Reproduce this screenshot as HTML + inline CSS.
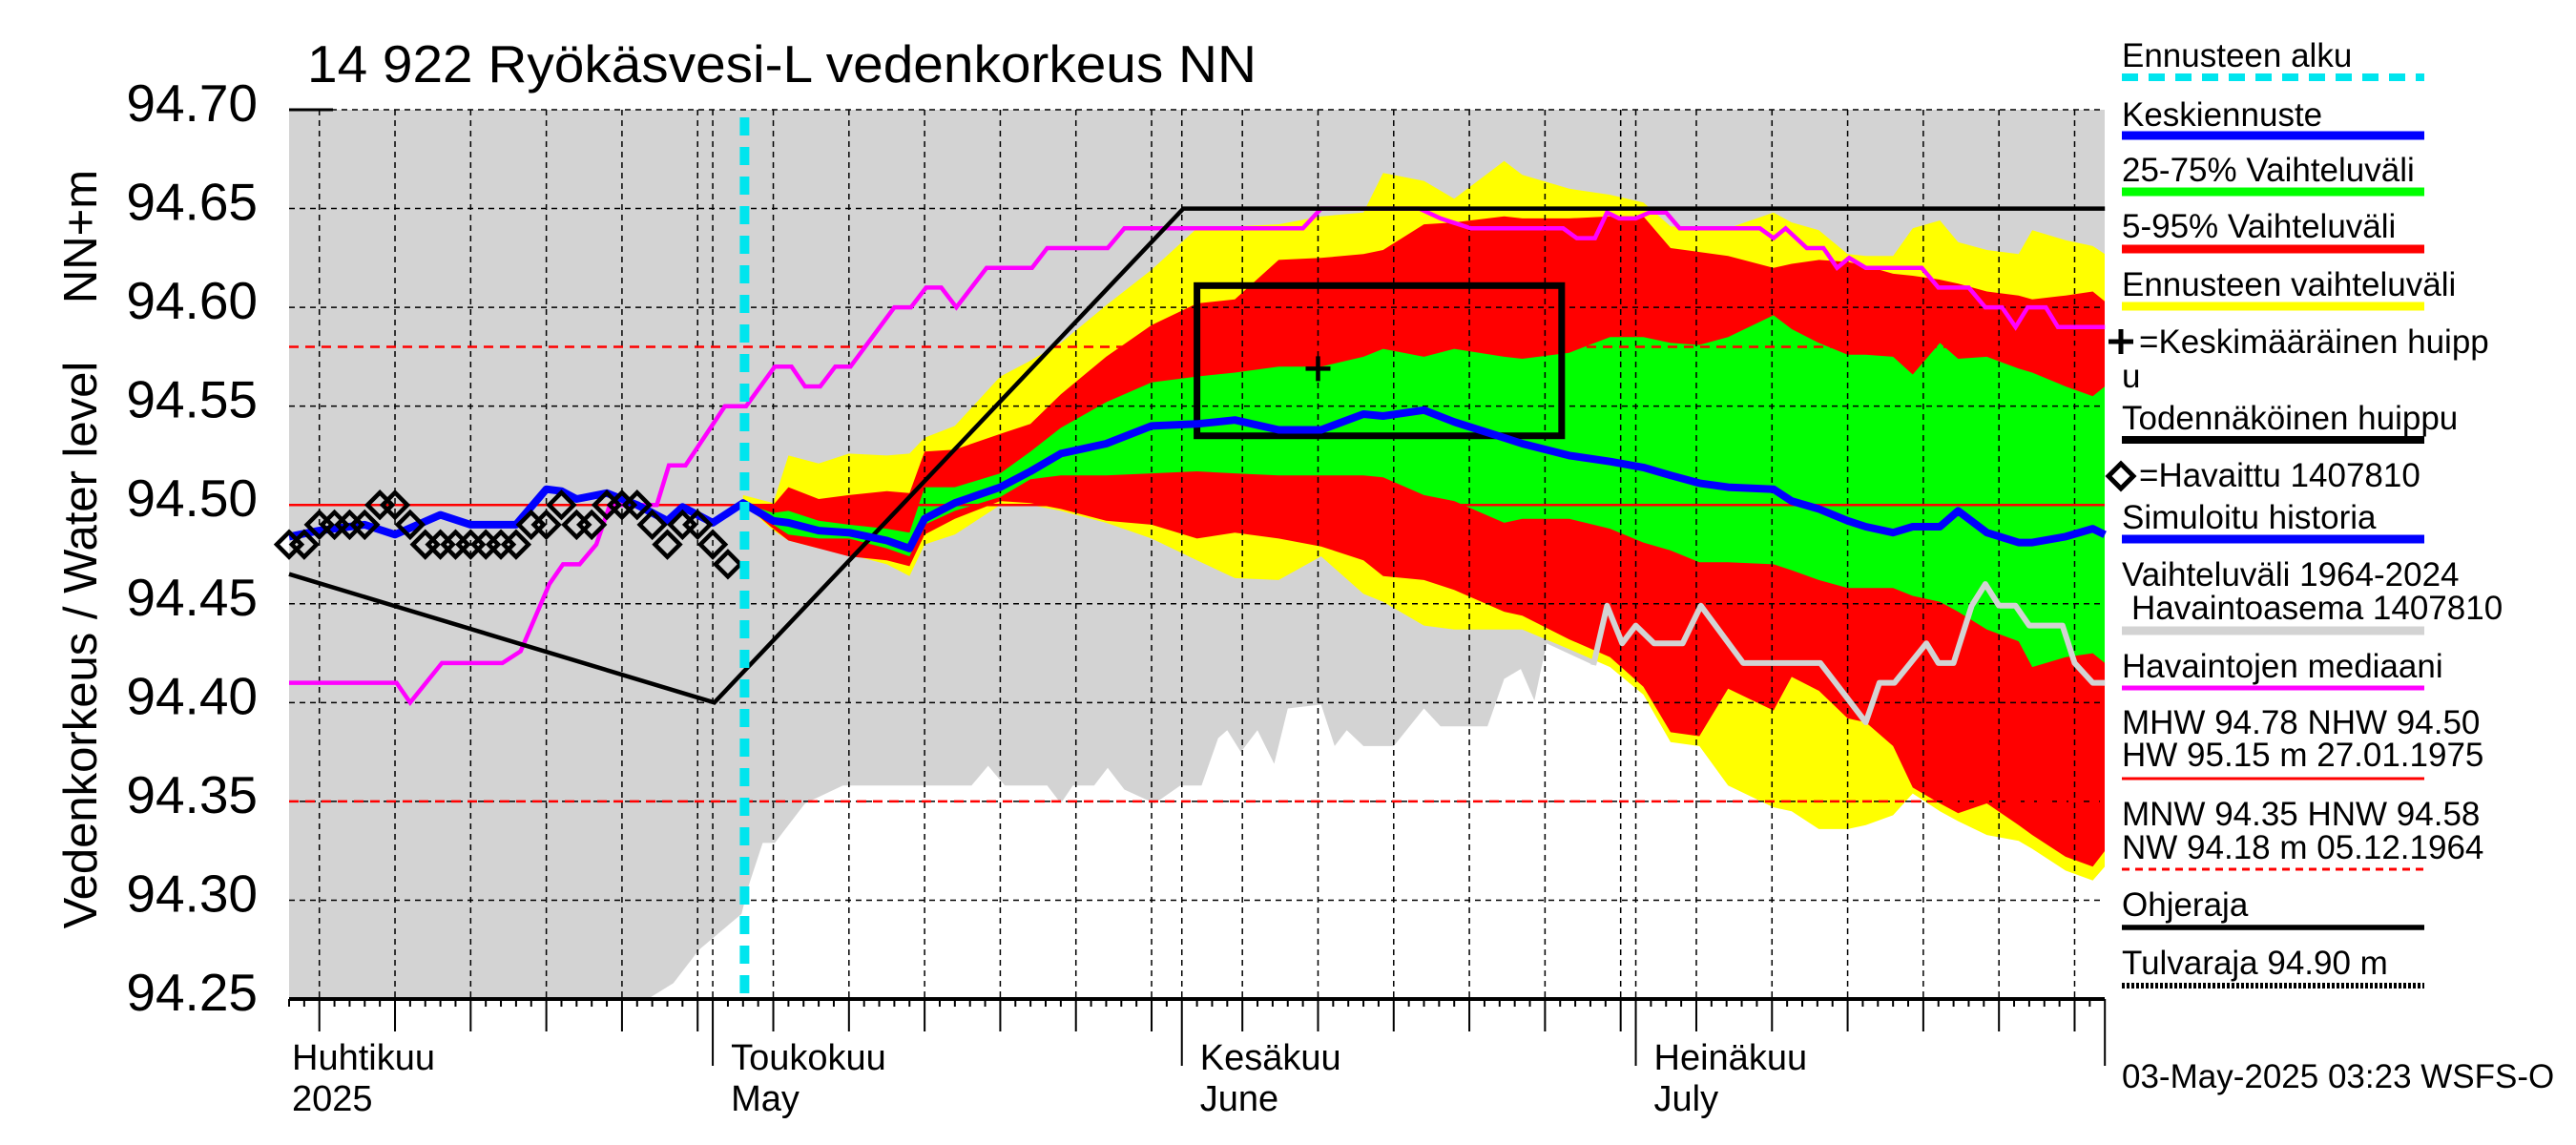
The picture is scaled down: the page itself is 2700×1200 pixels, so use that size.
<!DOCTYPE html>
<html><head><meta charset="utf-8"><style>
html,body{margin:0;padding:0;background:#fff;}
svg{display:block;font-family:"Liberation Sans",sans-serif;}
</style></head><body>
<svg id="chart" width="2700" height="1200" viewBox="0 0 2700 1200" xmlns="http://www.w3.org/2000/svg">
<defs><clipPath id="pc"><rect x="303" y="115" width="1903" height="932"/></clipPath></defs>
<rect x="0" y="0" width="2700" height="1200" fill="#fff"/>
<text x="322" y="86" font-size="55" textLength="995" lengthAdjust="spacingAndGlyphs">14 922 Ryökäsvesi-L vedenkorkeus NN</text>
<text transform="translate(101,676) rotate(-90)" text-anchor="middle" font-size="49">Vedenkorkeus / Water level</text>
<text transform="translate(101,248) rotate(-90)" text-anchor="middle" font-size="49">NN+m</text>
<g id="plot" clip-path="url(#pc)"></g>
<g id="over"></g>
<g id="legend"></g>
</svg>
<script>
// ---- data ----
const obsDays=[0,1,2,3,4,5,6,7,8,9,10,11,12,13,14,15,16,17,18,19,20,21,22,23,24,25,26,27,28,29];
const obsVals=[94.48,94.48,94.49,94.49,94.49,94.49,94.50,94.50,94.49,94.48,94.48,94.48,94.48,94.48,94.48,94.48,94.49,94.49,94.50,94.49,94.49,94.50,94.50,94.50,94.49,94.48,94.49,94.49,94.48,94.47];
const simDays=[0,2,5,7,10,12,15,17,18,19,21,23,25,26,28];
const simVals=[94.484,94.487,94.490,94.485,94.495,94.490,94.490,94.508,94.507,94.503,94.506,94.500,94.492,94.499,94.491];
const fDays=[30,32,33,35,37,39.5,41,42,44,47,49,51,54,57,60,62.5,65.4,68.2,71,72.3,75,77,80.3,81.5,84.6,87.3,89.5,91.3,93.2,95.1,98.1,99.3,101.1,103,104.2,106,107.3,109.1,110.3,112.2,114.3,115.2,117.4,119.2,120];
const yTop=[94.505,94.501,94.525,94.521,94.526,94.525,94.526,94.534,94.540,94.565,94.573,94.582,94.601,94.619,94.640,94.641,94.642,94.646,94.648,94.668,94.664,94.655,94.674,94.667,94.660,94.657,94.653,94.641,94.640,94.640,94.648,94.643,94.639,94.627,94.626,94.626,94.640,94.644,94.633,94.629,94.627,94.639,94.634,94.631,94.627];
const rTop=[94.501,94.500,94.509,94.503,94.505,94.507,94.506,94.527,94.528,94.536,94.541,94.556,94.575,94.591,94.602,94.604,94.624,94.625,94.627,94.629,94.642,94.643,94.646,94.645,94.645,94.646,94.646,94.630,94.628,94.626,94.620,94.622,94.624,94.623,94.621,94.617,94.616,94.614,94.612,94.608,94.606,94.604,94.606,94.608,94.603];
const gTop=[94.501,94.496,94.497,94.492,94.490,94.488,94.486,94.509,94.509,94.516,94.527,94.539,94.552,94.562,94.565,94.567,94.570,94.570,94.575,94.579,94.575,94.579,94.575,94.574,94.577,94.585,94.585,94.582,94.581,94.585,94.596,94.589,94.582,94.576,94.576,94.575,94.566,94.582,94.574,94.575,94.569,94.567,94.560,94.555,94.560];
const median=[94.501,94.492,94.491,94.487,94.486,94.482,94.478,94.493,94.501,94.509,94.517,94.526,94.531,94.540,94.541,94.543,94.538,94.538,94.546,94.545,94.548,94.542,94.534,94.531,94.525,94.522,94.519,94.515,94.511,94.509,94.508,94.502,94.498,94.492,94.489,94.486,94.489,94.489,94.497,94.486,94.481,94.481,94.484,94.488,94.485];
const gBot=[94.501,94.490,94.485,94.483,94.483,94.478,94.474,94.490,94.497,94.504,94.513,94.515,94.515,94.516,94.517,94.516,94.515,94.515,94.515,94.514,94.505,94.502,94.491,94.493,94.493,94.488,94.481,94.477,94.471,94.471,94.470,94.467,94.462,94.458,94.458,94.458,94.454,94.451,94.446,94.437,94.431,94.418,94.423,94.425,94.420];
const rBot=[94.501,94.488,94.482,94.478,94.474,94.472,94.469,94.485,94.493,94.502,94.501,94.498,94.492,94.490,94.483,94.486,94.483,94.479,94.472,94.464,94.462,94.457,94.446,94.444,94.432,94.423,94.408,94.385,94.383,94.407,94.396,94.413,94.406,94.392,94.390,94.378,94.357,94.349,94.344,94.349,94.338,94.333,94.322,94.317,94.325];
const yBot=[94.501,94.487,94.482,94.478,94.475,94.470,94.464,94.480,94.485,94.500,94.500,94.497,94.491,94.483,94.472,94.463,94.462,94.474,94.455,94.451,94.439,94.437,94.437,94.437,94.427,94.418,94.404,94.380,94.378,94.358,94.347,94.345,94.336,94.336,94.338,94.343,94.354,94.345,94.340,94.333,94.330,94.326,94.315,94.310,94.317];
const grayDays=[0,22,23.7,25.4,27.1,29.9,30.4,31.3,32.1,34.1,36.6,45.1,46.2,47.3,50.1,51,51.8,53.2,54.1,55.2,57.2,58.9,60.3,61.4,62,62.9,64,65.1,66,68.2,69.1,69.9,71,73,75,76.1,79.2,80.3,81.4,82.3,83.1,86.2,87.1,88.1,89,90.2,92.1,93.3,96.1,101.2,104.2,105.1,106.1,108.2,109,110,111.2,112.1,113,114.1,115,117.2,118,119.2,120];
const grayLow=[94.24,94.24,94.25,94.258,94.275,94.293,94.308,94.329,94.329,94.349,94.358,94.358,94.368,94.358,94.358,94.349,94.358,94.358,94.367,94.356,94.349,94.358,94.358,94.382,94.386,94.375,94.386,94.369,94.397,94.399,94.378,94.386,94.378,94.378,94.397,94.388,94.388,94.412,94.417,94.401,94.430,94.419,94.449,94.430,94.439,94.430,94.430,94.449,94.420,94.420,94.390,94.410,94.410,94.430,94.420,94.420,94.449,94.460,94.449,94.449,94.439,94.439,94.420,94.410,94.410];
const medDays=[0,7.1,8,10.1,14.1,15.3,17.2,18.1,19.2,20.3,21.2,24.3,25.1,26.2,28.8,30.2,32.1,33.2,34.1,35.1,36.1,37.1,40,41.1,42.1,43.1,44.1,46.1,49.1,50.1,54.1,55.2,67,68.2,74.7,76.1,78.1,84.2,85.1,86.3,87.1,87.9,89,89.9,91,91.9,97.2,98.1,98.9,100.3,101.4,102.3,103.1,104.2,107.9,109,111,112.1,113.2,114.1,114.9,116.1,116.9,120];
const medVals=[94.41,94.41,94.40,94.42,94.42,94.426,94.46,94.47,94.47,94.48,94.50,94.50,94.52,94.52,94.55,94.55,94.57,94.57,94.56,94.56,94.57,94.57,94.60,94.60,94.61,94.61,94.60,94.62,94.62,94.63,94.63,94.64,94.64,94.65,94.65,94.645,94.64,94.64,94.635,94.635,94.648,94.645,94.645,94.648,94.648,94.64,94.64,94.635,94.64,94.63,94.63,94.62,94.625,94.62,94.62,94.61,94.61,94.60,94.60,94.59,94.60,94.60,94.59,94.59];
const guideDays=[0,28.1,59.1,120];
const guideVals=[94.465,94.40,94.65,94.65];
const peakBoxDays=[60,84.1];
const peakBoxVals=[94.535,94.611];
const meanPeak=[68,94.569];
const forecastStart=30.1;
const yTicks=[94.70,94.65,94.60,94.55,94.50,94.45,94.40,94.35,94.30,94.25];
const refSolid=[94.50];
const refDashed=[94.58,94.35];
const monthDays=[-2,28,59,89,120];
const monthNames=["Huhtikuu","Toukokuu","Kesäkuu","Heinäkuu"];
const monthSub=["2025","May","June","July"];

// ---- scales ----
const X0=303,X1=2206,Y0=115,Y1=1047;
const xs=d=>X0+d*15.86;
const ys=v=>Y0+(94.70-v)/0.45*(Y1-Y0);
const NS="http://www.w3.org/2000/svg";
function mk(tag,attrs,parent){const e=document.createElementNS(NS,tag);for(const k in attrs)e.setAttribute(k,attrs[k]);parent.appendChild(e);return e;}
const plot=document.getElementById('plot');
const over=document.getElementById('over');
const leg=document.getElementById('legend');
function pts(ds,vs){return ds.map((d,i)=>xs(d).toFixed(1)+','+ys(vs[i]).toFixed(1)).join(' ');}

// gray historical range
let gp='M'+X0+','+(Y0-10)+' L'+X1+','+(Y0-10)+' ';
for(let i=grayDays.length-1;i>=0;i--)gp+='L'+xs(grayDays[i]).toFixed(1)+','+ys(grayLow[i]).toFixed(1)+' ';
gp+='Z';
let e=mk('path',{d:gp,fill:'#d3d3d3'},plot);



function band(top,bot,col,name){
  const p=pts(fDays,top)+' '+fDays.map((d,i)=>xs(d).toFixed(1)+','+ys(bot[i]).toFixed(1)).reverse().join(' ');
  const el=mk('polygon',{points:p,fill:col},plot);
  return el;
}
e=band(yTop,yBot,'#ffff00');


e=band(rTop,rBot,'#ff0000');


e=band(gTop,gBot,'#00ff00');



// grid
const gridDays=[];
for(let m=0;m<4;m++){for(const dd of [5,10,15,20,25,30]){gridDays.push(monthDays[m]+dd-1);}}
gridDays.push(28,59,89);
for(const d of gridDays){
  if(xs(d)<=X0||xs(d)>=X1)continue;
  e=mk('line',{x1:xs(d),x2:xs(d),y1:Y0,y2:Y1,stroke:'#000','stroke-width':1.5,'stroke-dasharray':'6,5'},over);
  
  
}
for(const v of yTicks){
  e=mk('line',{x1:X0,x2:X1,y1:ys(v),y2:ys(v),stroke:'#000','stroke-width':1.5,'stroke-dasharray':'6,5'},over);
  
  
  e=mk('text',{x:270,y:ys(v)+12,'text-anchor':'end','font-size':55},over);
  e.textContent=v.toFixed(2);
  
  
}
e=mk('line',{x1:X0,x2:349,y1:Y0,y2:Y0,stroke:'#000','stroke-width':3},over);



// reference lines
for(const v of refSolid){
  e=mk('line',{x1:X0,x2:X1,y1:ys(v),y2:ys(v),stroke:'#ff0000','stroke-width':2.5},over);
  
  
}
for(const v of refDashed){
  e=mk('line',{x1:X0,x2:X1,y1:ys(v),y2:ys(v),stroke:'#ff0000','stroke-width':2.5,'stroke-dasharray':'10,7'},over);
  
  
}

// historical lower boundary line (visible part)
const gi=grayDays.findIndex(d=>d>=86);
e=mk('polyline',{points:pts(grayDays.slice(gi),grayLow.slice(gi)),fill:'none',stroke:'#d3d3d3','stroke-width':6,'stroke-linejoin':'round'},over);



// median of observations
e=mk('polyline',{points:pts(medDays,medVals),fill:'none',stroke:'#ff00ff','stroke-width':4.5},over);



// guide line
e=mk('polyline',{points:pts(guideDays,guideVals),fill:'none',stroke:'#000','stroke-width':4.5},over);



// peak box
e=mk('rect',{x:xs(peakBoxDays[0]),y:ys(peakBoxVals[1]),width:xs(peakBoxDays[1])-xs(peakBoxDays[0]),height:ys(peakBoxVals[0])-ys(peakBoxVals[1]),fill:'none',stroke:'#000','stroke-width':7},over);


const px=xs(meanPeak[0]),py=ys(meanPeak[1]);
e=mk('path',{d:`M${px-13},${py} H${px+13} M${px},${py-13} V${py+13}`,stroke:'#000','stroke-width':4.5,fill:'none'},over);



// median forecast + sim history
e=mk('polyline',{points:pts(simDays.concat(fDays),simVals.concat(median)),fill:'none',stroke:'#0000ff','stroke-width':8,'stroke-linejoin':'round'},over);



// observations
obsDays.forEach((d,i)=>{
  const cx=xs(d),cy=ys(obsVals[i]);
  const el=mk('polygon',{points:`${cx},${cy-13} ${cx+13},${cy} ${cx},${cy+13} ${cx-13},${cy}`,fill:'none',stroke:'#000','stroke-width':4.5},over);
  
  
});

// forecast start
e=mk('line',{x1:xs(forecastStart),x2:xs(forecastStart),y1:Y0+8,y2:Y1,stroke:'#00e5ee','stroke-width':10,'stroke-dasharray':'19,12'},over);



// x axis
e=mk('line',{x1:X0,x2:X1,y1:Y1,y2:Y1,stroke:'#000','stroke-width':4},over);


for(let d=0;d<=120;d++){
  let len=8;
  if(gridDays.includes(d))len=34;
  if(monthDays.includes(d))len=70;
  e=mk('line',{x1:xs(d),x2:xs(d),y1:Y1,y2:Y1+len,stroke:'#000','stroke-width':2},over);
  
  
}
monthNames.forEach((n,i)=>{
  const lx=Math.max(306,xs(monthDays[i])+19);
  e=mk('text',{x:lx,y:1121,'font-size':38},over);
  e.textContent=n;
  
  
  e=mk('text',{x:lx,y:1164,'font-size':38},over);
  e.textContent=monthSub[i];
  
  
});

// legend
const LX=2224,LX2=2541;
function ltext(t,y,name,x){const el=mk('text',{x:x||LX,y:y,'font-size':35},leg);el.textContent=t;return el;}
function lline(y,col,w,dash,name){const el=mk('line',{x1:LX,x2:LX2,y1:y,y2:y,stroke:col,'stroke-width':w},leg);if(dash)el.setAttribute('stroke-dasharray',dash);return el;}
ltext('Ennusteen alku',70,'legend-forecast-start-label');
lline(81,'#00e5ee',8,'17,11','legend-forecast-start-swatch');
ltext('Keskiennuste',132,'legend-median-label');
lline(142,'#0000ff',9,null,'legend-median-swatch');
ltext('25-75% Vaihteluväli',190,'legend-25-75-label');
lline(201,'#00ff00',9,null,'legend-25-75-swatch');
ltext('5-95% Vaihteluväli',249,'legend-5-95-label');
lline(261,'#ff0000',9,null,'legend-5-95-swatch');
ltext('Ennusteen vaihteluväli',310,'legend-forecast-range-label');
lline(321,'#ffff00',9,null,'legend-forecast-range-swatch');
e=mk('path',{d:'M2210,358 H2236 M2223,345 V371',stroke:'#000','stroke-width':5,fill:'none'},leg);


ltext('=Keskimääräinen huipp',370,'legend-mean-peak-label',2242);
ltext('u',406,'legend-mean-peak-label-wrap');
ltext('Todennäköinen huippu',450,'legend-probable-peak-label');
lline(461,'#000',8,null,'legend-probable-peak-swatch');
e=mk('polygon',{points:'2223,486 2236,499 2223,512 2210,499',fill:'none',stroke:'#000','stroke-width':5},leg);


ltext('=Havaittu 1407810',510,'legend-observed-label',2242);
ltext('Simuloitu historia',554,'legend-sim-history-label');
lline(565,'#0000ff',9,null,'legend-sim-history-swatch');
ltext('Vaihteluväli 1964-2024',614,'legend-hist-range-label');
ltext(' Havaintoasema 1407810',649,'legend-hist-range-label-2',2234);
lline(661,'#d3d3d3',9,null,'legend-hist-range-swatch');
ltext('Havaintojen mediaani',710,'legend-obs-median-label');
lline(721,'#ff00ff',5,null,'legend-obs-median-swatch');
ltext('MHW  94.78 NHW  94.50',769,'legend-mhw-label');
ltext('HW  95.15 m 27.01.1975',803,'legend-hw-label');
lline(816,'#ff0000',3,null,'legend-nhw-swatch');
ltext('MNW  94.35 HNW  94.58',865,'legend-mnw-label');
ltext('NW  94.18 m 05.12.1964',900,'legend-nw-label');
lline(911,'#ff0000',3,'8,6','legend-hnw-swatch');
ltext('Ohjeraja',960,'legend-guide-label');
lline(972,'#000',5.5,null,'legend-guide-swatch');
ltext('Tulvaraja 94.90 m',1021,'legend-flood-label');
lline(1033,'#000',6,'3,2','legend-flood-swatch');
ltext('03-May-2025 03:23 WSFS-O',1140,'timestamp');
</script>
</body></html>
